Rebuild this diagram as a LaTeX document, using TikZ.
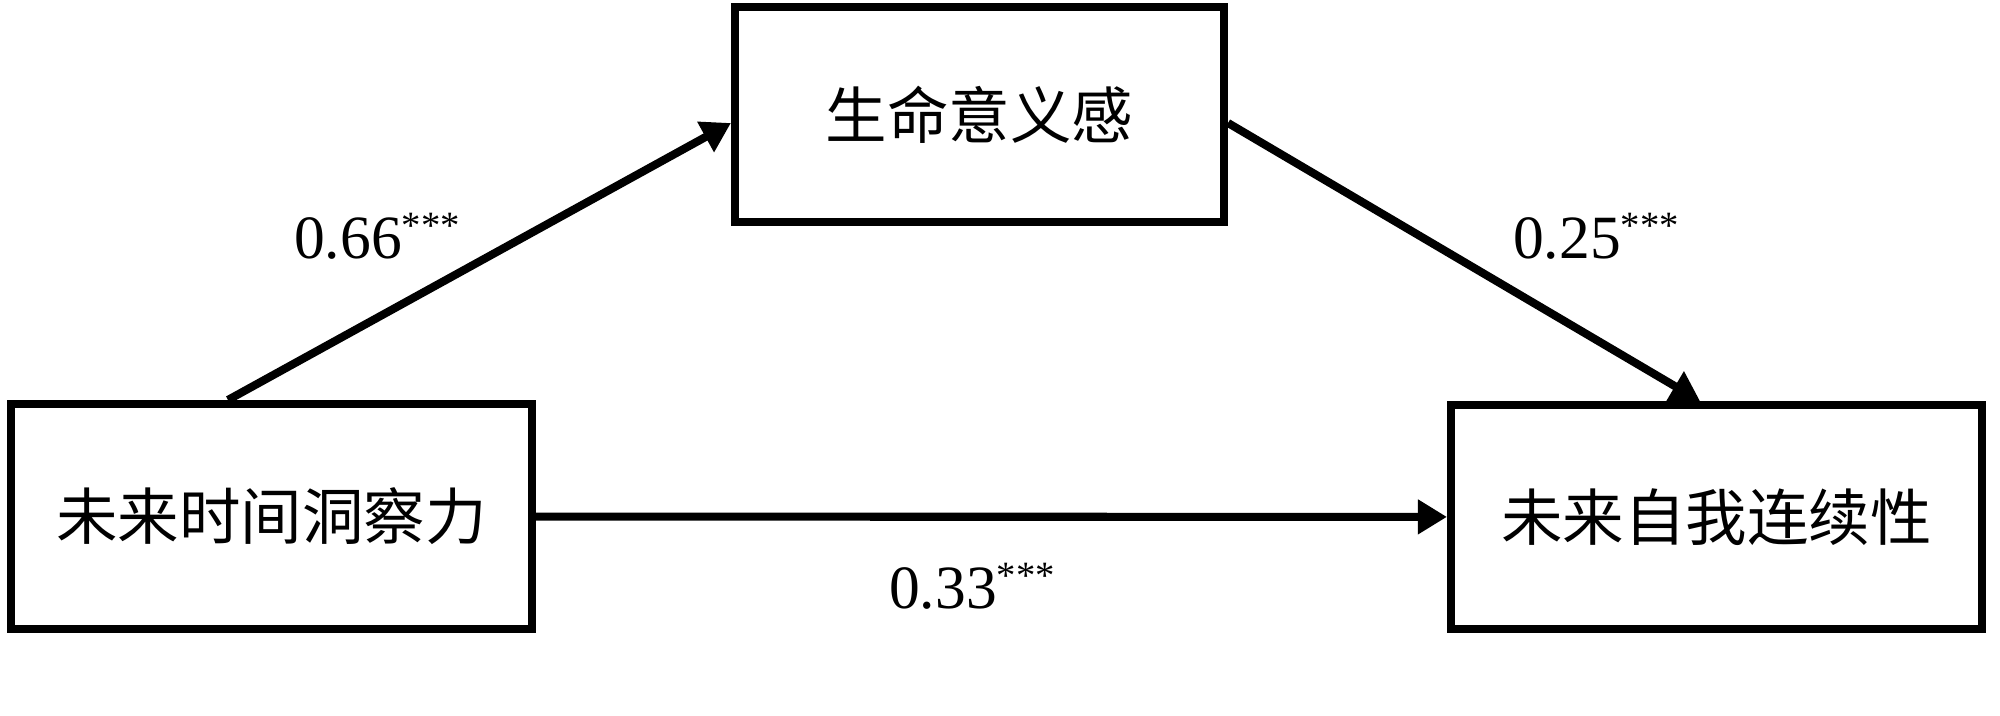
\documentclass[tikz,border=0pt]{standalone}
\usepackage{fontspec}
\setmainfont{Liberation Serif}
\newfontfamily\cjkfont{Noto Sans CJK SC}
\usepackage{tikz}
\usetikzlibrary{arrows.meta, positioning, calc}
\newcommand{\sigstars}{\raisebox{5.5pt}{\fontsize{11pt}{11pt}\selectfont ***}}

\begin{document}
\begin{tikzpicture}[
  var/.style={draw, line width=2.3pt, fill=white, inner sep=0pt,
    font=\cjkfont\fontsize{17.5pt}{21pt}\selectfont},
  arr/.style={-{Triangle[length=0.29cm, width=0.33cm]}, line width=2.3pt},
  coef/.style={anchor=base, inner sep=0pt,
    font=\fontsize{17.5pt}{21pt}\selectfont}
]
  \useasboundingbox[fill=white] (0, 0) rectangle (20, -7.16);

  % Predictor
  \node[var, minimum width=5.21cm, minimum height=2.25cm] (insight)
    at (2.715, -5.165) {未来时间洞察力};

  % Mediator
  \node[var, minimum width=4.89cm, minimum height=2.15cm] (meaning)
    at (9.795, -1.145) {生命意义感};

  % Outcome
  \node[var, minimum width=5.31cm, minimum height=2.24cm] (continuity)
    at (17.165, -5.17) {未来自我连续性};

  % Paths
  \draw[arr] ([xshift=-0.435cm]insight.north) -- ([yshift=-0.085cm]meaning.west);
  \draw[arr] ([yshift=-0.085cm]meaning.east) -- ([xshift=-0.165cm]continuity.north);
  \draw[arr] (insight) -- (continuity);

  % Coefficients
  \node[coef] (coefa) at (3.77, -2.58) {0.66\sigstars};
  \node[coef] (coefb) at (15.96, -2.58) {0.25\sigstars};
  \node[coef] (coefc) at (9.72, -6.08) {0.33\sigstars};
\end{tikzpicture}
\end{document}
